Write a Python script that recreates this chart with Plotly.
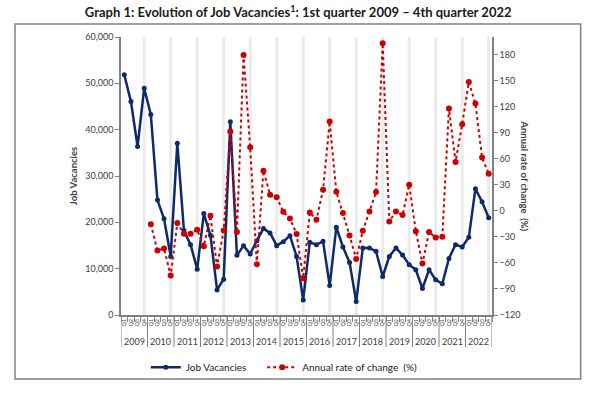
import plotly.graph_objects as go

# ---- data ----
years = list(range(2009, 2023))
quarter_labels = ["Q1", "Q2", "Q3", "Q4"]

vacancies = [51840, 46060, 36370, 48950, 43300, 24800, 20750, 12650,
             37090, 18220, 15180, 9900, 21900, 17200, 5420, 7740,
             41700, 12870, 14970, 13160, 16050, 18650, 17710, 14970,
             15830, 17130, 12650, 3250, 15690, 15180, 15900, 6360,
             18940, 14680, 11350, 2890, 14460, 14460, 13740, 8310,
             12650, 14460, 12940, 10850, 9760, 5710, 9760, 7590,
             6720, 12220, 15180, 14680, 16770, 27260, 24440, 20970]

annual_rate = [None, None, None, None,
               -15.4, -45.8, -43.5, -74.6, -14.2, -26.5, -26.5, -21.9,
               -40.8, -5.8, -64.2, -22.7, 91.1, -24.6, 179.2, 73.1,
               -61.5, 46.1, 18.5, 15.4, -1.2, -8.9, -26.9, -77.7,
               -1.9, -10.4, 24.2, 102.7, 21.9, -2.7, -28.5, -55.4,
               -23.1, -0.8, 21.5, 192.7, -12.3, -0.8, -5.0, 30.0,
               -23.5, -60.8, -24.6, -30.8, -30.0, 117.7, 56.1, 99.6,
               148.1, 123.4, 61.2, 42.7]

left_ticks = [0, 10000, 20000, 30000, 40000, 50000, 60000]
right_ticks = [-120, -90, -60, -30, 0, 30, 60, 90, 120, 150, 180]

NAVY = "#0E2A6B"
RED = "#CC0000"
GREY = "#808080"
TXT = "#404040"
FONT = "Lato"

n = len(vacancies)
x = list(range(n))
cat_labels = [q for _ in years for q in quarter_labels]

fig = go.Figure()
fig.add_trace(go.Scatter(
    x=x, y=annual_rate, name="Annual rate of change  (%)", yaxis="y2",
    mode="lines+markers", line=dict(color=RED, width=2, dash="dot"),
    marker=dict(size=6, color=RED), legend="legend2", showlegend=True))
fig.add_trace(go.Scatter(
    x=x, y=vacancies, name="Job Vacancies", mode="lines+markers",
    line=dict(color=NAVY, width=2.5), marker=dict(size=5, color=NAVY),
    legend="legend", showlegend=True))

shapes = []
# light vertical grid lines at each Q4
for k in range(len(years)):
    shapes.append(dict(type="line", xref="x", yref="paper", x0=4 * k + 3, x1=4 * k + 3,
                       y0=0, y1=1, line=dict(color="#EBEBEB", width=3), layer="below"))
# year dividers below the axis
for k in range(len(years) + 1):
    shapes.append(dict(type="line", xref="x", yref="paper", x0=4 * k - 0.5, x1=4 * k - 0.5,
                       y0=0, y1=-0.115, line=dict(color=GREY, width=1)))
# outer border
shapes.append(dict(type="rect", xref="paper", yref="paper", x0=-0.2857, x1=1.239,
                   y0=-0.230, y1=1.047, line=dict(color=GREY, width=1.5)))

annotations = []
for k, yr in enumerate(years):
    annotations.append(dict(x=4 * k + 1.5, y=-0.094, xref="x", yref="paper", text=str(yr),
                            showarrow=False, font=dict(size=9, color=TXT, family=FONT),
                            xanchor="center", yanchor="middle"))
annotations.append(dict(x=-0.129, y=0.5, xref="paper", yref="paper", text="<b>Job Vacancies</b>",
                        textangle=-90, showarrow=False, font=dict(size=9.5, color=TXT, family=FONT),
                        xanchor="center", yanchor="middle"))
annotations.append(dict(x=1.088, y=0.5, xref="paper", yref="paper",
                        text="<b>Annual rate of change  (%)</b>",
                        textangle=90, showarrow=False, font=dict(size=9.5, color=TXT, family=FONT),
                        xanchor="center", yanchor="middle"))

legend_style = dict(orientation="h", xref="container", yref="container", y=0.068,
                    xanchor="left", yanchor="middle", bgcolor="rgba(0,0,0,0)",
                    font=dict(size=10, color="#1a1a1a", family=FONT))

fig.update_layout(
    width=600, height=394, autosize=False, showlegend=True,
    margin=dict(l=121, r=108, t=37, b=79),
    paper_bgcolor="white", plot_bgcolor="white",
    font=dict(family=FONT, color=TXT),
    title=dict(text="<b>Graph 1: Evolution of Job Vacancies<sup>1</sup>: 1st quarter 2009 – 4th quarter 2022</b>",
               x=0.497, xanchor="center", y=0.968, yanchor="middle", yref="container",
               font=dict(size=13, color="#1a1a1a", family=FONT)),
    xaxis=dict(range=[-0.5, n - 0.5], tickmode="array", tickvals=x, ticktext=cat_labels,
               tickangle=-90, tickfont=dict(size=5.5, color=TXT), ticks="", automargin=False,
               showline=True, linecolor=GREY, linewidth=1.5, showgrid=False, zeroline=False,
               minor=dict(tickmode="array", tickvals=[i - 0.5 for i in range(n + 1)],
                          ticks="outside", ticklen=5, tickcolor=GREY, tickwidth=1)),
    yaxis=dict(range=[0, 60000], tickmode="array", tickvals=left_ticks, tickformat=",",
               showgrid=False, zeroline=False, showline=True, linecolor=GREY, linewidth=1.5,
               automargin=False,
               ticks="outside", ticklen=4, tickcolor=GREY, tickfont=dict(size=9, color=TXT)),
    yaxis2=dict(range=[-120, 200], overlaying="y", side="right", tickmode="array",
                tickvals=right_ticks, showgrid=False, zeroline=False, showline=True,
                automargin=False,
                linecolor=GREY, linewidth=1.5, ticks="outside", ticklen=4, tickcolor=GREY,
                tickfont=dict(size=9, color=TXT)),
    legend=dict(x=0.243, **legend_style),
    legend2=dict(x=0.437, **legend_style),
    shapes=shapes, annotations=annotations,
)

fig.write_html("out.html", config={"displayModeBar": False},
               post_script="document.body.style.margin='0';")
